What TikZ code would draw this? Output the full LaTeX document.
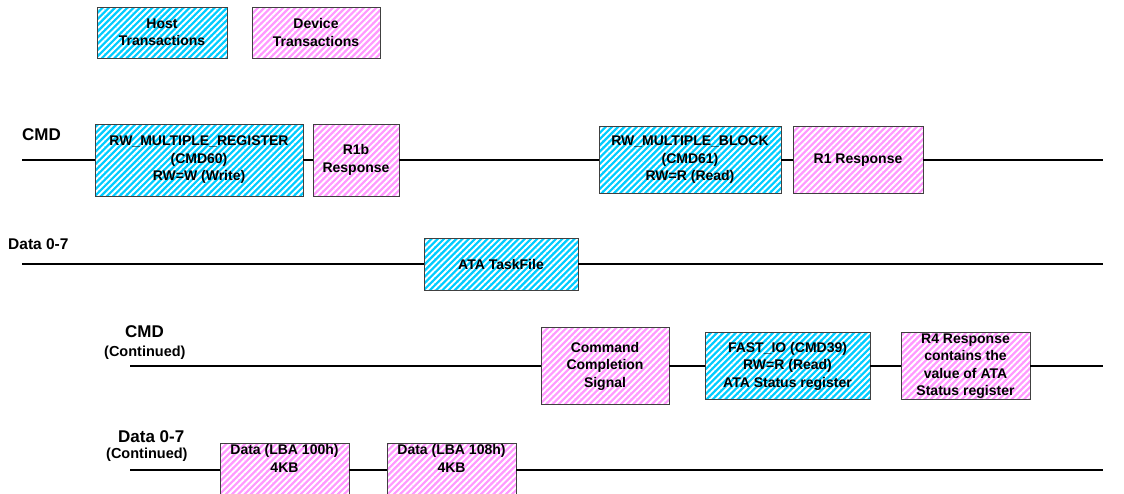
\documentclass[tikz,border=0pt]{standalone}
\usepackage{fontspec}
\setmainfont{Liberation Sans}
\usetikzlibrary{patterns.meta}
\definecolor{hostblue}{RGB}{0,204,255}
\definecolor{devpink}{RGB}{255,153,255}
\tikzset{
  trans/.style={draw=black!75, line width=0.8pt, align=center, inner sep=0pt,
    font=\bfseries\fontsize{14}{17.5}\selectfont,
    pattern={Lines[angle=45,distance=4.4pt,line width=1.9pt]}, pattern color=white},
  host/.style={trans, preaction={fill=hostblue}},
  device/.style={trans, preaction={fill=devpink}},
  bus/.style={line width=2pt},
  buslabel/.style={font=\bfseries\fontsize{17}{19}\selectfont, anchor=base west, inner sep=0pt},
  contlabel/.style={font=\bfseries\fontsize{14.5}{16}\selectfont, anchor=base west, inner sep=0pt}
}
\begin{document}
\begin{tikzpicture}[x=1pt, y=-1pt]
    \useasboundingbox (0,0) rectangle (1124,493);

    % Legend
    \node[host, minimum width=130, minimum height=51] (hostkey) at (162,32.5) {Host\\Transactions};
    \node[device, minimum width=128, minimum height=51] (devkey) at (316,32.5) {Device\\Transactions};

    % CMD
    \node[buslabel] (cmdlabel) at (22,140) {CMD};
    \coordinate (cmdL) at (22,160);
    \coordinate (cmdR) at (1103,160);
    \node[host, minimum width=208, minimum height=72] (mreg) at (199,160) {RW\_MULTIPLE\_REGISTER\\(CMD60)\\RW=W (Write)};
    \node[device, minimum width=86, minimum height=72] (rob) at (356,160) {R1b\\Response};
    \node[host, minimum width=182, minimum height=67] (mblock) at (690,160) {RW\_MULTIPLE\_BLOCK\\(CMD61)\\RW=R (Read)};
    \node[device, minimum width=130, minimum height=67] (rone) at (858,160) {R1 Response};
    \draw[bus] (cmdL) -- (mreg.west);
    \draw[bus] (mreg.east) -- (rob.west);
    \draw[bus] (rob.east) -- (mblock.west);
    \draw[bus] (mblock.east) -- (rone.west);
    \draw[bus] (rone.east) -- (cmdR);

    % Data 0-7
    \node[buslabel, font=\bfseries\fontsize{15.5}{18}\selectfont] (datalabel) at (8,249) {Data 0-7};
    \coordinate (dataL) at (22,264);
    \coordinate (dataR) at (1103,264);
    \node[host, minimum width=154, minimum height=52] (taskfile) at (501,264) {ATA TaskFile};
    \draw[bus] (dataL) -- (taskfile.west);
    \draw[bus] (taskfile.east) -- (dataR);

    % CMD (Continued)
    \node[buslabel] (cmdlabel2) at (125,337) {CMD};
    \node[contlabel] (cmdcont) at (104,356) {(Continued)};
    \coordinate (cmdL2) at (130,366);
    \coordinate (cmdR2) at (1103,366);
    \node[device, minimum width=128, minimum height=77] (ccs) at (605,366) {Command\\Completion\\Signal};
    \node[host, minimum width=165, minimum height=67] (fastio) at (787.5,366) {FAST\_IO (CMD39)\\RW=R (Read)\\ATA Status register};
    \node[device, minimum width=129, minimum height=67] (rfour) at (965.5,366) {R4 Response\\contains the\\value of ATA\\Status register};
    \draw[bus] (cmdL2) -- (ccs.west);
    \draw[bus] (ccs.east) -- (fastio.west);
    \draw[bus] (fastio.east) -- (rfour.west);
    \draw[bus] (rfour.east) -- (cmdR2);

    % Data 0-7 (Continued)
    \node[buslabel] (datalabel2) at (118,442) {Data 0-7};
    \node[contlabel] (datacont) at (106,458) {(Continued)};
    \coordinate (dataL2) at (130,470);
    \coordinate (dataR2) at (1103,470);
    \node[device, minimum width=129, minimum height=54] (lbaa) at (284.5,470) {Data (LBA 100h)\\4KB\\\strut};
    \node[device, minimum width=129, minimum height=54] (lbab) at (451.5,470) {Data (LBA 108h)\\4KB\\\strut};
    \draw[bus] (dataL2) -- (lbaa.west);
    \draw[bus] (lbaa.east) -- (lbab.west);
    \draw[bus] (lbab.east) -- (dataR2);
\end{tikzpicture}
\end{document}
